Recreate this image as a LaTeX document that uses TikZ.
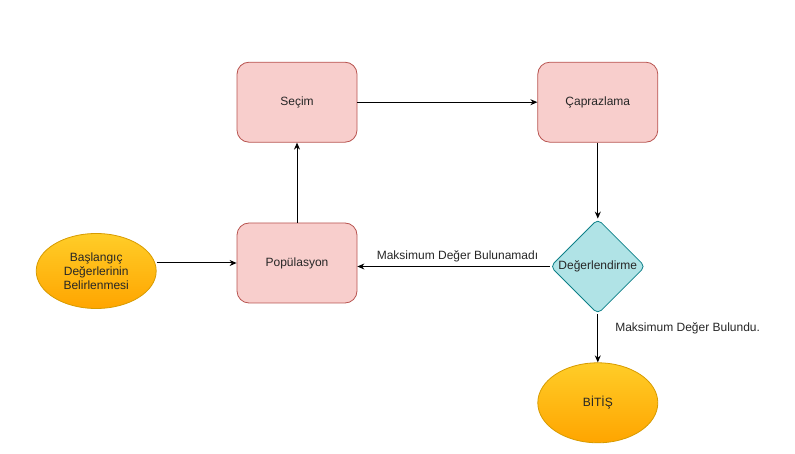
\documentclass[tikz,border=0pt]{standalone}
\usepackage{fontspec}
\setmainfont{Liberation Sans}
\usetikzlibrary{positioning, arrows.meta, shapes.geometric, shadings}
\usepackage{xcolor}
\definecolor{stepred}{HTML}{B85450}
\definecolor{stepfill}{HTML}{F8CECC}
\definecolor{checkteal}{HTML}{0E8088}
\definecolor{checkfill}{HTML}{B0E3E6}
\definecolor{termline}{HTML}{D79B00}
\definecolor{termtop}{HTML}{FFCD28}
\definecolor{termbot}{HTML}{FFA500}

\begin{document}
\begin{tikzpicture}[
    x=1pt, y=-1pt,
    >={Stealth[length=7pt, width=6pt]},
    every node/.style={font=\fontsize{12}{14}\selectfont, text=black!85},
    stepbox/.style={
        rectangle, rounded corners=12pt, draw=stepred, fill=stepfill,
        line width=0.8pt, minimum width=120pt, minimum height=80pt,
        align=center, inner sep=0pt,
    },
    checkbox/.style={
        diamond, draw=checkteal, fill=checkfill, line width=0.8pt,
        minimum width=95pt, minimum height=95pt, aspect=1,
        inner sep=0pt, rounded corners=5pt,
    },
    termbox/.style={
        ellipse, draw=termline, line width=0.8pt,
        top color=termtop, bottom color=termbot,
        minimum width=120pt, align=center, inner sep=0pt,
    },
    flow/.style={->, line width=1pt, black},
    arrlbl/.style={inner sep=1pt}
]
\useasboundingbox (0,0) rectangle (795,454);

% Main loop
\node[stepbox] (pop) at (297,263) {Popülasyon};
\node[stepbox, above=80pt of pop] (sel) {Seçim};
\node[stepbox, right=180pt of sel] (cross) {Çaprazlama};
\node[checkbox, below=76pt of cross] (eval) {Değerlendirme};

% Start and end
\node[termbox, minimum height=75pt, left=80pt of pop, yshift=-8pt] (start)
    {Başlangıç\\Değerlerinin\\Belirlenmesi};
\node[termbox, minimum height=80pt, below=48pt of eval] (finish) {BİTİŞ};

% --- Forward flow ---
\draw[flow] (start.east |- pop.west) -- (pop.west);
\draw[flow] (pop.north) -- (sel.south);
\draw[flow] (sel.east) -- (cross.west);
\draw[flow] (cross.south) -- (eval.north);

% --- Decision ---
\draw[flow] (eval.west) -- (pop.east |- eval.west)
    node[arrlbl, pos=0.48, above=3pt] {Maksimum Değer Bulunamadı};
\draw[flow] (eval.south) -- (finish.north)
    node[arrlbl, pos=0.3, right=16pt] {Maksimum Değer Bulundu.};

\end{tikzpicture}
\end{document}
